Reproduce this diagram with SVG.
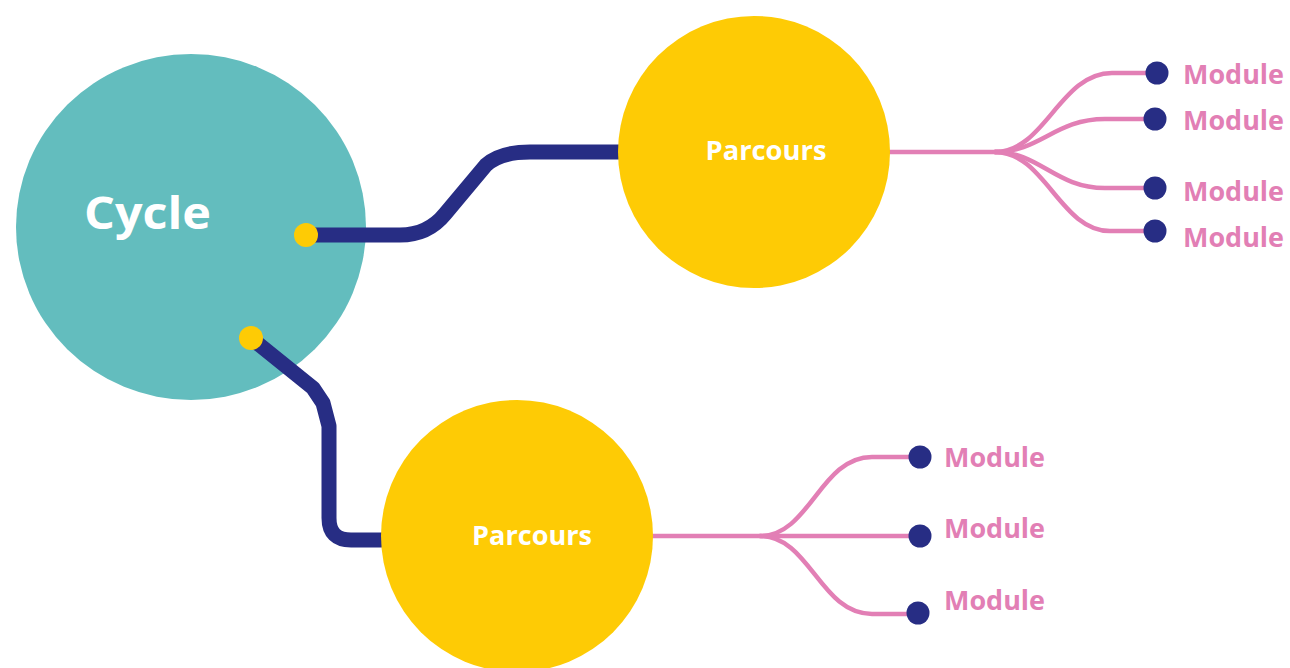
<svg xmlns="http://www.w3.org/2000/svg" width="1290" height="668" viewBox="0 0 1290 668">
<style>
.navy{fill:none;stroke:#272d84;stroke-width:15;stroke-linejoin:round}
.pink{fill:none;stroke:#e27fb5;stroke-width:4.5;stroke-linecap:round}
.dot{fill:#272d84}
.yd{fill:#fecb05}
.par{fill:#fecb05}
.lbl{font-family:"Open Sans","Liberation Sans",sans-serif;font-weight:bold;fill:#ffffff}
.mod{font-family:"Open Sans","Liberation Sans",sans-serif;font-weight:bold;fill:#e27fb5;font-size:26px}
</style>
<rect width="1290" height="668" fill="#ffffff"/>
<g id="cycle">
<ellipse cx="191" cy="227" rx="175" ry="173" fill="#63bdbe"/>
<text class="lbl" x="84" y="229" font-size="44" textLength="127" lengthAdjust="spacingAndGlyphs">Cycle</text>
</g>
<g id="connectors">
<path class="navy" d="M306,235 H400 Q428,235 445,214 L486,165 Q500,152 530,152 H625"/>
<path class="navy" d="M251,338 L313,388 L323,403 L329,426 V518 Q329,540 351,540 H386"/>
<path class="pink" d="M889,152 H1000"/>
<path class="pink" d="M995,152 C1045,152 1060,73 1112,73 H1157"/>
<path class="pink" d="M995,152 C1040,152 1055,119 1105,119 H1155"/>
<path class="pink" d="M995,152 C1040,152 1055,188 1105,188 H1155"/>
<path class="pink" d="M995,152 C1045,152 1060,231 1110,231 H1155"/>
<path class="pink" d="M651,536 H920"/>
<path class="pink" d="M760,536 C810,536 820,457 872,457 H920"/>
<path class="pink" d="M760,536 C810,536 820,614 872,614 H918"/>
</g>
<circle class="yd" cx="306" cy="235" r="12"/>
<circle class="yd" cx="251" cy="338" r="12"/>
<g id="parcours1">
<circle class="par" cx="754" cy="152" r="136"/>
<text class="lbl" x="766" y="160" font-size="26" text-anchor="middle" textLength="121" lengthAdjust="spacingAndGlyphs">Parcours</text>
</g>
<g id="parcours2">
<circle class="par" cx="517" cy="536" r="136"/>
<text class="lbl" x="532" y="545" font-size="26" text-anchor="middle" textLength="120" lengthAdjust="spacingAndGlyphs">Parcours</text>
</g>
<g id="module1"><circle class="dot" cx="1157" cy="73" r="11.5"/><text class="mod" x="1183" y="84" textLength="101" lengthAdjust="spacingAndGlyphs">Module</text></g>
<g id="module2"><circle class="dot" cx="1155" cy="119" r="11.5"/><text class="mod" x="1183" y="130" textLength="101" lengthAdjust="spacingAndGlyphs">Module</text></g>
<g id="module3"><circle class="dot" cx="1155" cy="188" r="11.5"/><text class="mod" x="1183" y="201" textLength="101" lengthAdjust="spacingAndGlyphs">Module</text></g>
<g id="module4"><circle class="dot" cx="1155" cy="231" r="11.5"/><text class="mod" x="1183" y="247" textLength="101" lengthAdjust="spacingAndGlyphs">Module</text></g>
<g id="module5"><circle class="dot" cx="920" cy="457" r="11.5"/><text class="mod" x="944" y="467" textLength="101" lengthAdjust="spacingAndGlyphs">Module</text></g>
<g id="module6"><circle class="dot" cx="920" cy="536" r="11.5"/><text class="mod" x="944" y="538" textLength="101" lengthAdjust="spacingAndGlyphs">Module</text></g>
<g id="module7"><circle class="dot" cx="918" cy="613" r="11.5"/><text class="mod" x="944" y="610" textLength="101" lengthAdjust="spacingAndGlyphs">Module</text></g>
</svg>
